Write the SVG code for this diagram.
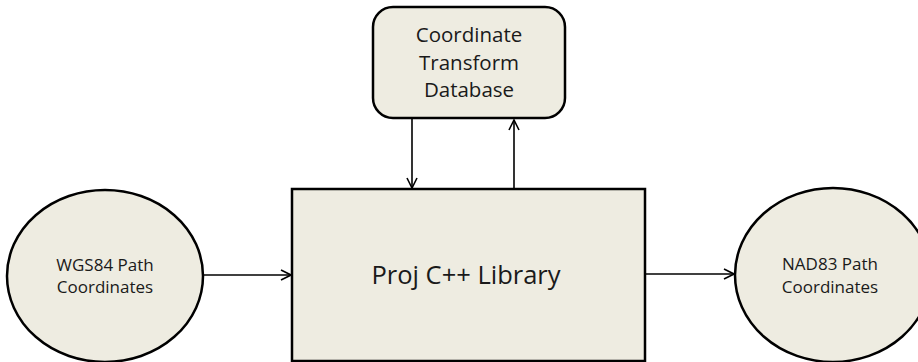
<svg xmlns="http://www.w3.org/2000/svg" width="918" height="362" viewBox="0 0 918 362">
<defs>
<style>
.n{fill:#EEECE1;stroke:#000;stroke-width:2.5}
.t{font-family:"Open Sans","Liberation Sans",sans-serif;fill:#1a1a1a;text-anchor:middle}
.c{stroke:#000;stroke-width:1.6;fill:none;marker-end:url(#a)}
</style>
<marker id="a" viewBox="0 0 12 12" refX="11" refY="6" markerWidth="12" markerHeight="12" markerUnits="userSpaceOnUse" orient="auto">
<path d="M1,1 L11,6 L1,11" fill="none" stroke="#000" stroke-width="1.6"/>
</marker>
</defs>
<rect width="918" height="362" fill="#fff"/>
<g id="connectors">
<line class="c" x1="412" y1="119" x2="412" y2="188"/>
<line class="c" x1="514" y1="189" x2="514" y2="120"/>
<line class="c" x1="203" y1="275" x2="291" y2="275"/>
<line class="c" x1="646" y1="274" x2="734" y2="274"/>
</g>
<g id="db">
<rect class="n" x="373" y="7" width="192" height="111" rx="20"/>
<text class="t" font-size="20.5" x="469" y="42">Coordinate</text>
<text class="t" font-size="20.5" x="469" y="70">Transform</text>
<text class="t" font-size="20.5" x="469" y="97">Database</text>
</g>
<g id="proj">
<rect class="n" x="292" y="189" width="353" height="172"/>
<text class="t" font-size="25.5" x="466" y="284">Proj C++ Library</text>
</g>
<g id="wgs">
<ellipse class="n" cx="105" cy="276" rx="98" ry="86"/>
<text class="t" font-size="17" x="105" y="271">WGS84 Path</text>
<text class="t" font-size="17" x="105" y="293">Coordinates</text>
</g>
<g id="nad">
<ellipse class="n" cx="833" cy="275" rx="98" ry="87"/>
<text class="t" font-size="17" x="830" y="270">NAD83 Path</text>
<text class="t" font-size="17" x="830" y="293">Coordinates</text>
</g>
</svg>
